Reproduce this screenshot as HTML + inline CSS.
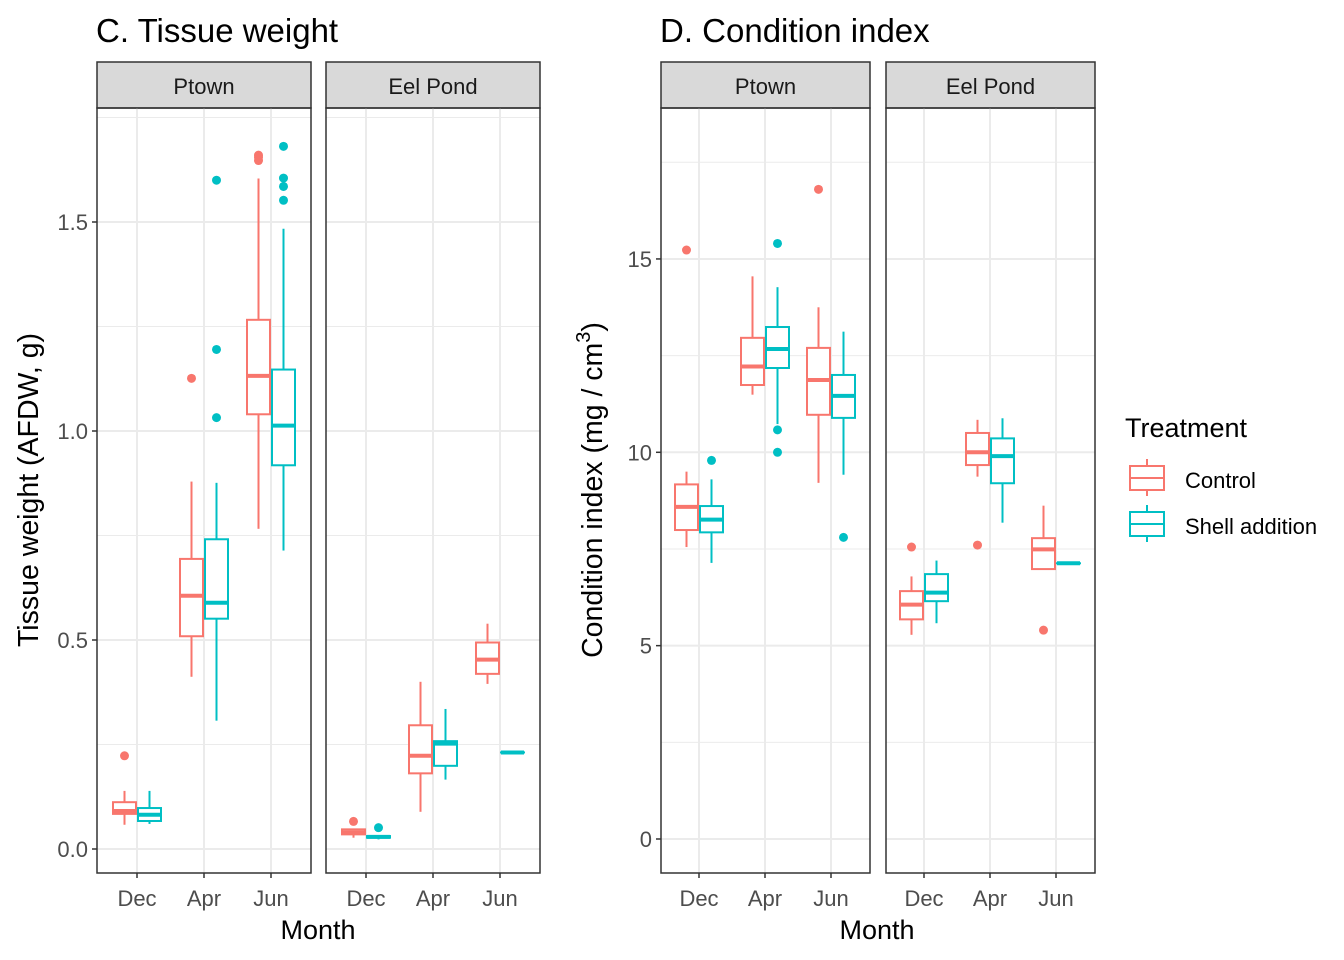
<!DOCTYPE html>
<html><head><meta charset="utf-8"><style>
html,body{margin:0;padding:0;background:#fff}
svg{display:block;font-family:"Liberation Sans",Arial,sans-serif}
</style></head><body>
<svg id="chart" width="1344" height="960" xmlns="http://www.w3.org/2000/svg"></svg>
<script>
const months = ["Dec","Apr","Jun"];
const sites = ["Ptown","Eel Pond"];
const treatments = ["Control","Shell addition"];
// each stat: [low whisker, q1, median, q3, high whisker]
const tissueStats = {
 "Ptown": {
  "Control": [[0.058,0.084,0.091,0.112,0.139],[0.412,0.509,0.606,0.694,0.879],[0.766,1.040,1.132,1.266,1.604]],
  "Shell addition": [[0.060,0.067,0.082,0.098,0.139],[0.307,0.551,0.589,0.741,0.876],[0.714,0.918,1.013,1.147,1.484]]
 },
 "Eel Pond": {
  "Control": [[0.027,0.035,0.040,0.047,0.047],[0.089,0.181,0.223,0.296,0.400],[0.395,0.419,0.453,0.494,0.539]],
  "Shell addition": [[0.023,0.027,0.029,0.031,0.031],[0.166,0.199,0.252,0.258,0.335],[0.231,0.231,0.231,0.231,0.231]]
 }
};
const tissueOutliers = {
 "Ptown": {"Control": [[0.223],[1.126],[1.647,1.655,1.66]], "Shell addition": [[],[1.600,1.195,1.032],[1.681,1.605,1.585,1.552]]},
 "Eel Pond": {"Control": [[0.066],[],[]], "Shell addition": [[0.051],[],[]]}
};
const condStats = {
 "Ptown": {
  "Control": [[7.55,7.99,8.59,9.17,9.50],[11.49,11.74,12.22,12.96,14.55],[9.21,10.97,11.87,12.70,13.75]],
  "Shell addition": [[7.14,7.93,8.26,8.61,9.30],[10.73,12.18,12.67,13.24,14.27],[9.42,10.89,11.46,12.00,13.12]]
 },
 "Eel Pond": {
  "Control": [[5.28,5.68,6.06,6.41,6.79],[9.37,9.67,10.00,10.50,10.84],[6.98,6.98,7.49,7.78,8.62]],
  "Shell addition": [[5.58,6.15,6.37,6.85,7.20],[8.18,9.20,9.90,10.36,10.88],[7.13,7.13,7.13,7.13,7.13]]
 }
};
const condOutliers = {
 "Ptown": {"Control": [[15.23],[],[16.80]], "Shell addition": [[9.79],[15.40,10.58,10.0],[7.80]]},
 "Eel Pond": {"Control": [[7.55],[7.60],[5.40]], "Shell addition": [[],[],[]]}
};
const tissueTicks = [0, 0.5, 1.0, 1.5];
const tissueTickLabels = ["0.0","0.5","1.0","1.5"];
const tissueMinor = [0.25, 0.75, 1.25, 1.75];
const condTicks = [0, 5, 10, 15];
const condTickLabels = ["0","5","10","15"];
const condMinor = [2.5, 7.5, 12.5, 17.5];

const NS = "http://www.w3.org/2000/svg";
const svg = document.getElementById("chart");
const colors = {"Control":"#F8766D","Shell addition":"#00BFC4"};
function el(tag, attrs, parent){ const e=document.createElementNS(NS,tag); for(const k in attrs) e.setAttribute(k,attrs[k]); (parent||svg).appendChild(e); return e; }
function txt(s, attrs, parent){ const t=el("text",attrs,parent); t.textContent=s; return t; }

function drawChart(cfg){
  const g = el("g",{});
  
  
  const y = v => cfg.y0 - (v - 0) * cfg.ppu;
  const t = txt(cfg.title,{x:cfg.titleX,y:42,"font-size":33,fill:"#000"},g);
  
  
  sites.forEach((site,si)=>{
    const px = cfg.panelX[si], pw = cfg.panelW, top=108, bot=cfg.bottom;
    const pg = el("g",{},g);
    
    
    const strip = el("rect",{x:px,y:62,width:pw,height:46,fill:"#d9d9d9",stroke:"#333","stroke-width":1.5},pg);
    
    
    const st = txt(site,{x:px+pw/2,y:94,"font-size":22,"text-anchor":"middle",fill:"#1a1a1a"},pg);
    
    
    cfg.minor.forEach(v=>{ if(y(v)>top) el("line",{x1:px,x2:px+pw,y1:y(v),y2:y(v),stroke:"#ebebeb","stroke-width":1},pg); });
    cfg.ticks.forEach(v=>el("line",{x1:px,x2:px+pw,y1:y(v),y2:y(v),stroke:"#ebebeb","stroke-width":2},pg));
    const xc = i => px + cfg.xOff + i*cfg.xStep;
    months.forEach((m,i)=>{
      el("line",{x1:xc(i),x2:xc(i),y1:top,y2:bot,stroke:"#ebebeb","stroke-width":2},pg);
      el("line",{x1:xc(i),x2:xc(i),y1:bot,y2:bot+5,stroke:"#333","stroke-width":1.5},pg);
      const ml = txt(m,{x:xc(i),y:bot+33,"font-size":22,"text-anchor":"middle",fill:"#4d4d4d"},pg);
      
      
      treatments.forEach((tr,ti)=>{
        const s = cfg.stats[site][tr][i];
        const cx = xc(i) + (ti===0?-12.5:12.5), hw = 11.5, c = colors[tr];
        const bg = el("g",{},pg);
        
        
        el("line",{x1:cx,x2:cx,y1:y(s[4]),y2:y(s[3]),stroke:c,"stroke-width":2},bg);
        el("line",{x1:cx,x2:cx,y1:y(s[1]),y2:y(s[0]),stroke:c,"stroke-width":2},bg);
        el("rect",{x:cx-hw,y:y(s[3]),width:2*hw,height:Math.max(y(s[1])-y(s[3]),0.01),fill:"#fff",stroke:c,"stroke-width":2},bg);
        el("line",{x1:cx-hw,x2:cx+hw,y1:y(s[2]),y2:y(s[2]),stroke:c,"stroke-width":4},bg);
        cfg.outliers[site][tr][i].forEach(o=>{
          const pt = el("circle",{cx:cx,cy:y(o),r:4.5,fill:c},bg);
          
          
        });
      });
    });
    el("rect",{x:px,y:top,width:pw,height:bot-top,fill:"none",stroke:"#333","stroke-width":1.5},pg);
  });
  cfg.ticks.forEach((v,k)=>{
    el("line",{x1:cfg.panelX[0]-5,x2:cfg.panelX[0],y1:y(v),y2:y(v),stroke:"#333","stroke-width":1.5},g);
    const yl = txt(cfg.tickLabels[k],{x:cfg.panelX[0]-9,y:y(v)+8,"font-size":22,"text-anchor":"end",fill:"#4d4d4d"},g);
    
    
  });
  const xt = txt("Month",{x:cfg.xTitleX,y:939,"font-size":27,"text-anchor":"middle",fill:"#000"},g);
  
  
  return y;
}
drawChart({name:"tissue-weight-chart",title:"C. Tissue weight",titleX:96,panelX:[97,326],panelW:214,bottom:873,
  y0:849,ppu:418,xOff:40,xStep:67,stats:tissueStats,outliers:tissueOutliers,ticks:tissueTicks,tickLabels:tissueTickLabels,minor:tissueMinor,xTitleX:318});
drawChart({name:"condition-index-chart",title:"D. Condition index",titleX:660,panelX:[661,886],panelW:209,bottom:873,
  y0:839,ppu:38.67,xOff:38,xStep:66,stats:condStats,outliers:condOutliers,ticks:condTicks,tickLabels:condTickLabels,minor:condMinor,xTitleX:877});
</script>
<svg style="position:absolute;left:0;top:0" width="1344" height="960" xmlns="http://www.w3.org/2000/svg">
  <text transform="translate(38,490) rotate(-90)" font-size="28.5" text-anchor="middle" fill="#000" font-family="Liberation Sans, sans-serif">Tissue weight (AFDW, g)</text>
  <text transform="translate(602,490) rotate(-90)" font-size="28.5" text-anchor="middle" fill="#000" font-family="Liberation Sans, sans-serif">Condition index (mg / cm<tspan dy="-12" font-size="20">3</tspan><tspan dy="12">)</tspan></text>
  <g font-family="Liberation Sans, sans-serif">
    <text x="1125" y="437" font-size="27" fill="#000">Treatment</text>
    <g>
      <line x1="1147" x2="1147" y1="459" y2="496" stroke="#F8766D" stroke-width="2"/>
      <rect x="1130" y="466" width="34" height="24" fill="#fff" stroke="#F8766D" stroke-width="2"/>
      <line x1="1130" x2="1164" y1="478" y2="478" stroke="#F8766D" stroke-width="2"/>
      <text x="1185" y="488" font-size="22" fill="#000">Control</text>
    </g>
    <g>
      <line x1="1147" x2="1147" y1="505" y2="542" stroke="#00BFC4" stroke-width="2"/>
      <rect x="1130" y="512" width="34" height="24" fill="#fff" stroke="#00BFC4" stroke-width="2"/>
      <line x1="1130" x2="1164" y1="524" y2="524" stroke="#00BFC4" stroke-width="2"/>
      <text x="1185" y="534" font-size="22" fill="#000">Shell addition</text>
    </g>
  </g>
</svg>
</body></html>
